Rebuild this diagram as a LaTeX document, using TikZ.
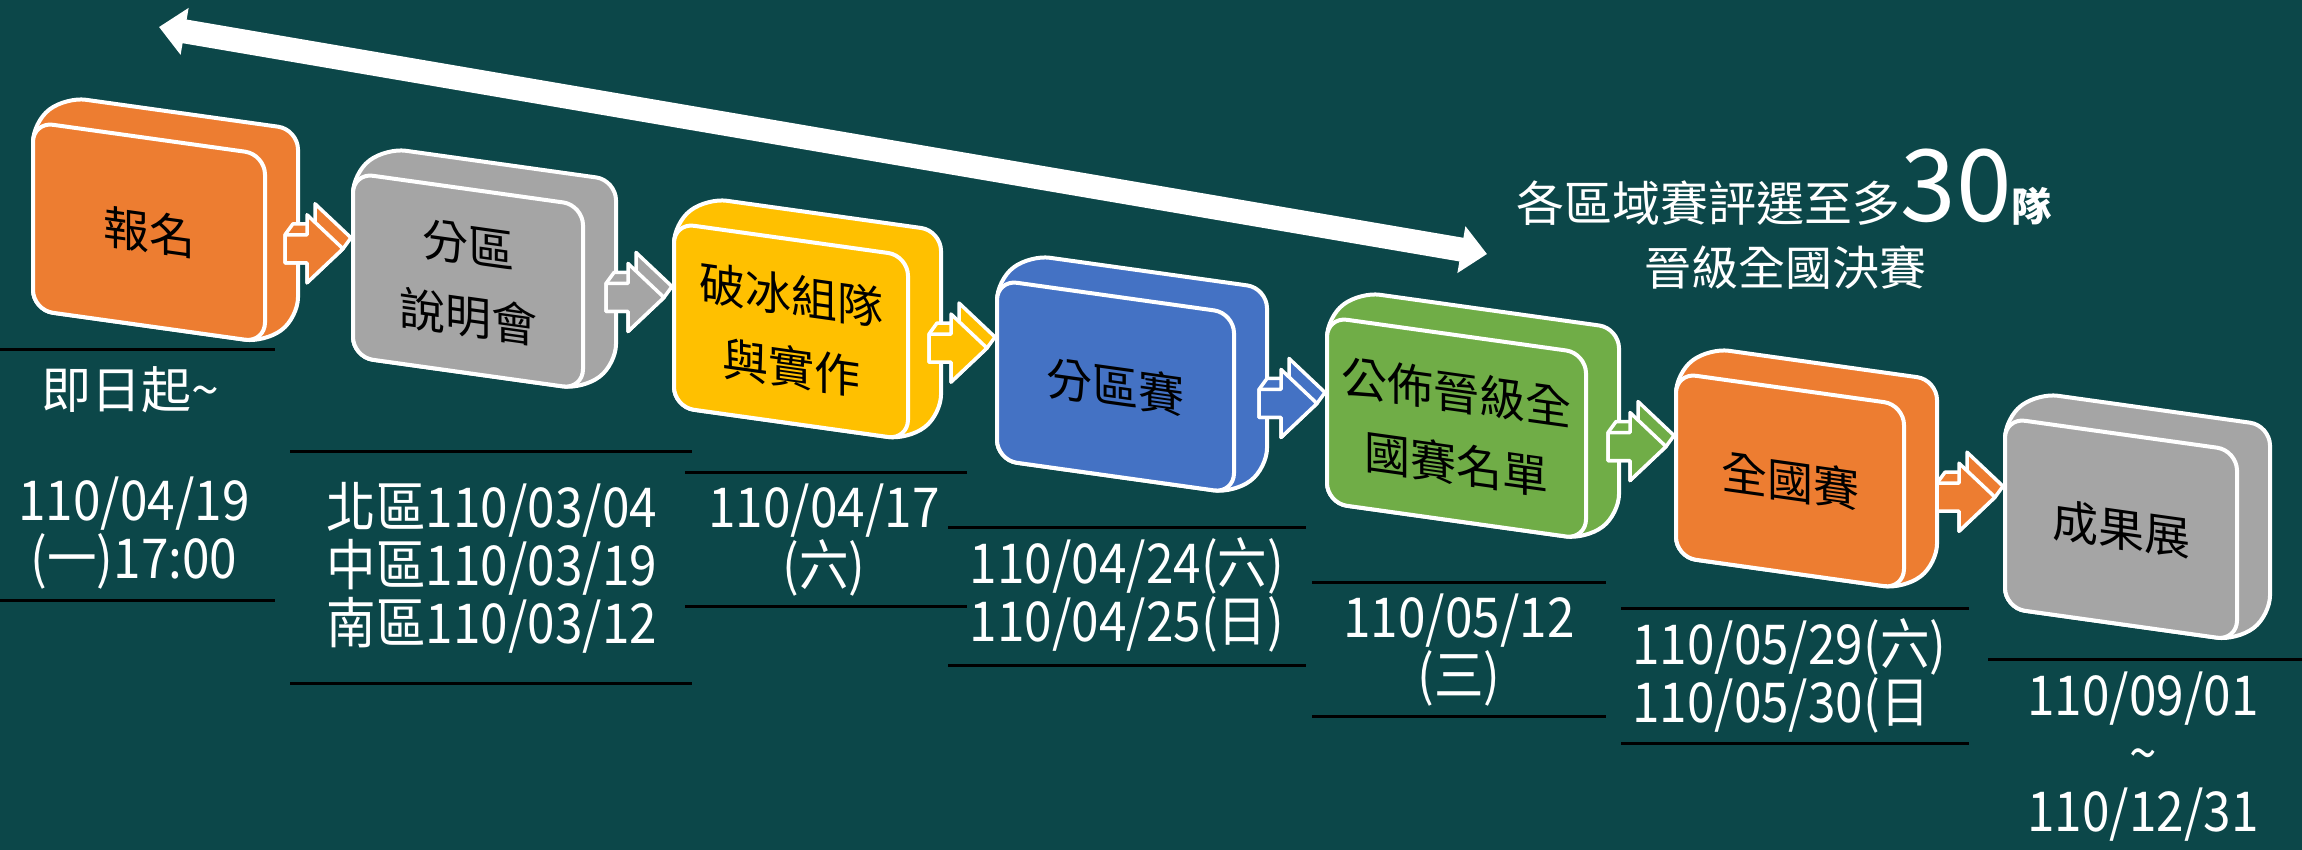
\documentclass[tikz,border=0pt]{standalone}
\usepackage{fontspec}
\setmainfont{Noto Sans CJK TC}
\newfontfamily\datefont[FakeStretch=0.9]{Noto Sans CJK TC}
\usetikzlibrary{arrows.meta}
\definecolor{bgteal}{RGB}{12,71,73}
\definecolor{orangeA}{RGB}{237,125,49}
\definecolor{grayA}{RGB}{165,165,165}
\definecolor{yellowA}{RGB}{255,192,0}
\definecolor{blueA}{RGB}{68,114,196}
\definecolor{greenA}{RGB}{112,173,71}
\tikzset{
  boxline/.style={draw=white,line width=4pt,rounded corners=20pt},
  stagebox/.style={boxline,inner sep=0pt,align=center,font=\fontsize{46}{72}\selectfont,yslant=-0.14},
  arrowline/.style={draw=white,line width=3.5pt,line join=round},
  datetext/.style={text=white,align=center,inner sep=0pt,font=\datefont\fontsize{55}{58}\selectfont},
  divider/.style={line width=3pt,black},
}
\newcommand\stage[7]{%
  \filldraw[boxline,fill=#6] (#2,#3) -- ++(33,-25) -- ++(#4,0.14*#4) -- ++(0,#5) -- ++(-33,25) -- ++(-#4,-0.14*#4) -- cycle;
  \node[stagebox,fill=#6,minimum width=#4pt,minimum height=#5pt] (#1) at (#2+#4/2,#3+0.07*#4+#5/2) {#7};
}
\newcommand\steparrow[3]{%
  \coordinate (tip) at (#1.east -| #2.west);
  \filldraw[arrowline,fill=#3] ([shift={(-66,14)}]tip) -- ([shift={(-66,-14)}]tip) -- ([shift={(-58,-25)}]tip) -- ([shift={(-36,-25)}]tip) -- ([shift={(-36,-45)}]tip) -- ([shift={(0,-11)}]tip) -- ([shift={(-8,0)}]tip) -- ([shift={(-44,34)}]tip) -- ([shift={(-44,14)}]tip) -- cycle;
  \filldraw[arrowline,fill=#3] ([shift={(-66,-14)}]tip) -- ([shift={(-44,-14)}]tip) -- ([shift={(-44,-34)}]tip) -- ([shift={(-8,0)}]tip) -- ([shift={(-44,34)}]tip) -- ([shift={(-44,14)}]tip) -- ([shift={(-66,14)}]tip) -- cycle;
}
\begin{document}
\begin{tikzpicture}[x=1pt,y=-1pt]
\useasboundingbox (0,0) rectangle (2302,850);
\fill[bgteal] (0,0) rectangle (2302,850);

\coordinate (arrL) at (159,27);
\coordinate (arrR) at (1487,254);
\draw[white,line width=24pt,{Triangle[width=46pt,length=26pt]}-{Triangle[width=46pt,length=26pt]}] (arrL) -- (arrR);

\foreach \xa/\xb/\yy in {0/275/349,0/275/600,290/692/451,290/692/683,685/967/472,685/967/606,948/1306/527,948/1306/665,1312/1606/582,1312/1606/716,1621/1969/608,1621/1969/743,1988/2302/659}
  \draw[divider] (\xa,\yy) -- (\xb,\yy);

\stage{reg}{33}{122}{232}{188}{orangeA}{報名}
\stage{brief}{353}{173}{230}{184}{grayA}{分區\\說明會}
\stage{team}{674}{223}{234}{184}{yellowA}{破冰組隊\\與實作}
\stage{regional}{997}{280}{237}{180}{blueA}{分區賽}
\stage{announce}{1327}{317}{259}{186}{greenA}{公佈晉級全\\國賽名單}
\stage{national}{1676}{373}{228}{184}{orangeA}{全國賽}
\stage{expo}{2005}{418}{232}{190}{grayA}{成果展}

\steparrow{reg}{brief}{orangeA}
\steparrow{brief}{team}{grayA}
\steparrow{team}{regional}{yellowA}
\steparrow{regional}{announce}{blueA}
\steparrow{announce}{national}{greenA}
\steparrow{national}{expo}{orangeA}

\node[text=white,inner sep=0pt,font=\fontsize{50}{54}\selectfont] (start) at (130,390) {即日起\textasciitilde};
\node[datetext] (regdate) at (134,533) {110/04/19\\(一)17:00};
\node[datetext] (briefdate) at (492,568) {北區110/03/04\\中區110/03/19\\南區110/03/12};
\node[datetext] (teamdate) at (824,540) {110/04/17\\(六)};
\node[datetext] (regionaldate) at (1127,595) {110/04/24(六)\\110/04/25(日)};
\node[datetext] (announcedate) at (1459,650) {110/05/12\\(三)};
\node[datetext,align=left,anchor=west] (nationaldate) at (1632,676) {110/05/29(六)\\110/05/30(日};
\node[datetext] (expodate) at (2143,757) {110/09/01\\\textasciitilde\\110/12/31};

\node[text=white,anchor=base,inner sep=0pt,font=\fontsize{48}{58}\selectfont] (quota) at (1784,222) {各區域賽評選至多{\fontsize{100}{100}\selectfont 30}{\fontsize{40}{40}\selectfont\bfseries 隊}};
\node[text=white,anchor=base,inner sep=0pt,font=\fontsize{47}{58}\selectfont] (advance) at (1785,286) {晉級全國決賽};
\end{tikzpicture}
\end{document}
